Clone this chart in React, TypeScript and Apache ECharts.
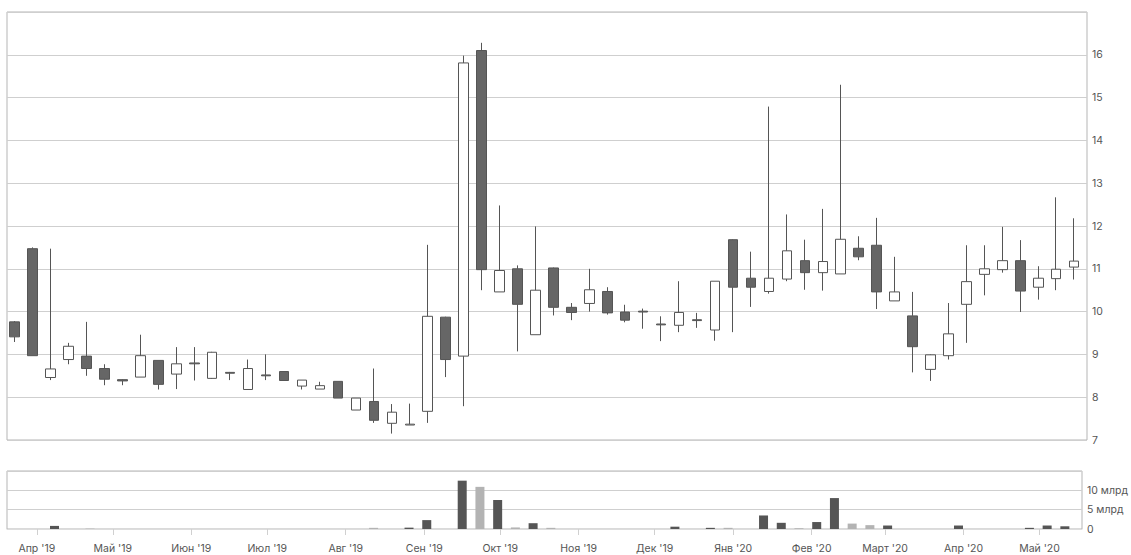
import React, { useEffect, useRef } from "react";
import * as echarts from "echarts";

// Weekly candles (week start dates)
const dates = [
  "2019-03-25", "2019-04-01", "2019-04-08", "2019-04-15", "2019-04-22", "2019-04-29",
  "2019-05-06", "2019-05-13", "2019-05-20", "2019-05-27", "2019-06-03", "2019-06-10",
  "2019-06-17", "2019-06-24", "2019-07-01", "2019-07-08", "2019-07-15", "2019-07-22",
  "2019-07-29", "2019-08-05", "2019-08-12", "2019-08-19", "2019-08-26", "2019-09-02",
  "2019-09-09", "2019-09-16", "2019-09-23", "2019-09-30", "2019-10-07", "2019-10-14",
  "2019-10-21", "2019-10-28", "2019-11-04", "2019-11-11", "2019-11-18", "2019-11-25",
  "2019-12-02", "2019-12-09", "2019-12-16", "2019-12-23", "2019-12-30", "2020-01-06",
  "2020-01-13", "2020-01-20", "2020-01-27", "2020-02-03", "2020-02-10", "2020-02-17",
  "2020-02-24", "2020-03-02", "2020-03-09", "2020-03-16", "2020-03-23", "2020-03-30",
  "2020-04-06", "2020-04-13", "2020-04-20", "2020-04-27", "2020-05-04", "2020-05-11",
];

const opens = [
  9.76, 11.47, 8.46, 8.88, 8.96, 8.67, 8.41, 8.47, 8.86, 8.54,
  8.8, 8.44, 8.58, 8.18, 8.52, 8.6, 8.26, 8.19, 8.37, 7.7,
  7.9, 7.39, 7.35, 7.67, 9.87, 8.96, 16.1, 10.46, 11.0, 9.46,
  11.02, 10.1, 10.19, 10.47, 9.99, 10.01, 9.71, 9.68, 9.81, 9.57,
  11.68, 10.78, 10.47, 10.76, 11.19, 10.91, 10.88, 11.48, 11.55, 10.25,
  9.9, 8.65, 8.97, 10.17, 10.87, 10.98, 11.19, 10.57, 10.77, 11.04,
];

const closes = [
  9.41, 8.97, 8.66, 9.19, 8.67, 8.42, 8.38, 8.97, 8.3, 8.78,
  8.78, 9.05, 8.56, 8.67, 8.5, 8.39, 8.4, 8.27, 7.98, 7.98,
  7.46, 7.65, 7.37, 9.89, 8.88, 15.81, 10.98, 10.96, 10.17, 10.5,
  10.1, 9.98, 10.51, 9.97, 9.8, 9.99, 9.69, 9.98, 9.79, 10.71,
  10.57, 10.57, 10.78, 11.42, 10.91, 11.17, 11.69, 11.28, 10.46, 10.46,
  9.18, 8.99, 9.48, 10.7, 11.0, 11.19, 10.48, 10.78, 10.99, 11.18,
];

const lows = [
  9.29, 8.97, 8.4, 8.77, 8.5, 8.28, 8.28, 8.47, 8.18, 8.19,
  8.39, 8.43, 8.4, 8.18, 8.4, 8.39, 8.18, 8.19, 7.98, 7.7,
  7.4, 7.15, 7.35, 7.4, 8.47, 7.79, 10.5, 10.46, 9.07, 9.46,
  9.91, 9.8, 10.0, 9.93, 9.75, 9.6, 9.31, 9.52, 9.62, 9.32,
  9.52, 10.11, 10.42, 10.71, 10.51, 10.49, 10.88, 11.2, 10.06, 10.25,
  8.58, 8.38, 8.88, 9.27, 10.38, 10.91, 9.99, 10.28, 10.5, 10.75,
];

const highs = [
  9.78, 11.5, 11.47, 9.27, 9.76, 8.77, 8.42, 9.46, 8.86, 9.17,
  9.17, 9.06, 8.59, 8.88, 9.0, 8.6, 8.4, 8.36, 8.37, 7.98,
  8.67, 7.84, 7.85, 11.56, 9.88, 15.98, 16.28, 12.48, 11.08, 11.99,
  11.03, 10.2, 11.0, 10.57, 10.16, 10.07, 9.89, 10.71, 9.97, 10.71,
  11.69, 11.4, 14.79, 12.27, 11.68, 12.4, 15.3, 11.76, 12.19, 11.28,
  10.46, 9.0, 10.2, 11.55, 11.55, 11.98, 11.67, 11.06, 12.67, 12.18,
];

// Volume, billions
const volumes = [
  0, 0, 0.8, 0, 0.1, 0, 0, 0, 0, 0,
  0, 0, 0, 0, 0, 0, 0, 0, 0, 0,
  0.3, 0, 0.35, 2.3, 0, 12.5, 10.9, 7.5, 0.4, 1.5,
  0.3, 0, 0, 0, 0, 0, 0, 0.6, 0, 0.3,
  0.3, 0, 3.5, 1.6, 0.2, 1.8, 8.0, 1.4, 1.0, 0.9,
  0, 0, 0, 0.9, 0, 0, 0, 0.3, 0.9, 0.7,
];

const monthNames = ["Янв", "Фев", "Март", "Апр", "Май", "Июн", "Июл", "Авг", "Сен", "Окт", "Ноя", "Дек"];
const volumeUnit = "млрд";

const FONT = "Inter, 'Noto Sans', sans-serif";
const DAY = 86400000;

export default function App() {
  const ref = useRef<HTMLDivElement>(null);

  useEffect(() => {
    document.body.style.margin = "0";
    const chart = echarts.init(ref.current!, null, { renderer: "svg" });

    const candleData = dates.map((d, i) => [d, opens[i], closes[i], lows[i], highs[i]]);
    const volData = dates.map((d, i) => ({
      value: [d, volumes[i]],
      itemStyle: { color: closes[i] >= opens[i] ? "#555555" : "#b3b3b3" },
    }));

    const xMin = "2019-03-22";
    const xMax = "2020-05-16";

    chart.setOption({
      animation: false,
      backgroundColor: "#ffffff",
      grid: [
        { left: 7, top: 12, width: 1080, height: 428, show: true, borderColor: "#b5b5b5", borderWidth: 1 },
        { left: 7, top: 471, width: 1080, height: 58, show: true, borderColor: "#b5b5b5", borderWidth: 1 },
      ],
      xAxis: [
        {
          type: "time",
          gridIndex: 0,
          min: xMin,
          max: xMax,
          show: false,
          splitLine: { show: false },
        },
        {
          type: "time",
          gridIndex: 1,
          min: xMin,
          max: xMax,
          offset: 6,
          splitNumber: 14,
          minInterval: 28 * DAY,
          maxInterval: 31 * DAY,
          axisLine: { show: true, lineStyle: { color: "#dddddd", width: 1 } },
          axisTick: { show: true, length: 6, lineStyle: { color: "#d0d0d0" } },
          splitLine: { show: false },
          axisLabel: {
            color: "#555555",
            fontSize: 10.5,
            fontFamily: FONT,
            margin: 8,
            hideOverlap: false,
            formatter: (v: number) => {
              const d = new Date(v);
              return `${monthNames[d.getMonth()]} '${String(d.getFullYear()).slice(2)}`;
            },
          },
        },
      ],
      yAxis: [
        {
          type: "value",
          gridIndex: 0,
          position: "right",
          min: 7,
          max: 17,
          interval: 1,
          axisLine: { show: false },
          axisTick: { show: false },
          splitLine: { show: true, lineStyle: { color: "#cfcfcf", width: 1 } },
          axisLabel: {
            showMaxLabel: false,
            color: "#555555",
            fontSize: 10.5,
            fontFamily: FONT,
            margin: 5,
          },
        },
        {
          type: "value",
          gridIndex: 1,
          position: "right",
          min: 0,
          max: 15,
          interval: 5,
          axisLine: { show: false },
          axisTick: { show: false },
          splitLine: { show: true, lineStyle: { color: "#cfcfcf", width: 1 } },
          axisLabel: {
            showMaxLabel: false,
            color: "#555555",
            fontSize: 10.5,
            fontFamily: FONT,
            margin: 5,
            formatter: (v: number) => (v === 0 ? "0" : `${v} ${volumeUnit}`),
          },
        },
      ],
      series: [
        {
          type: "candlestick",
          xAxisIndex: 0,
          yAxisIndex: 0,
          barWidth: 10,
          data: candleData,
          itemStyle: {
            color: "#ffffff",
            color0: "#666666",
            borderColor: "#555555",
            borderColor0: "#555555",
            borderWidth: 1,
          },
        },
        {
          type: "bar",
          xAxisIndex: 1,
          yAxisIndex: 1,
          barWidth: 9,
          data: volData,
        },
      ],
    });

    return () => chart.dispose();
  }, []);

  return (
    <div
      ref={ref}
      style={{ position: "absolute", left: 0, top: 0, width: 1131, height: 555 }}
    />
  );
}
